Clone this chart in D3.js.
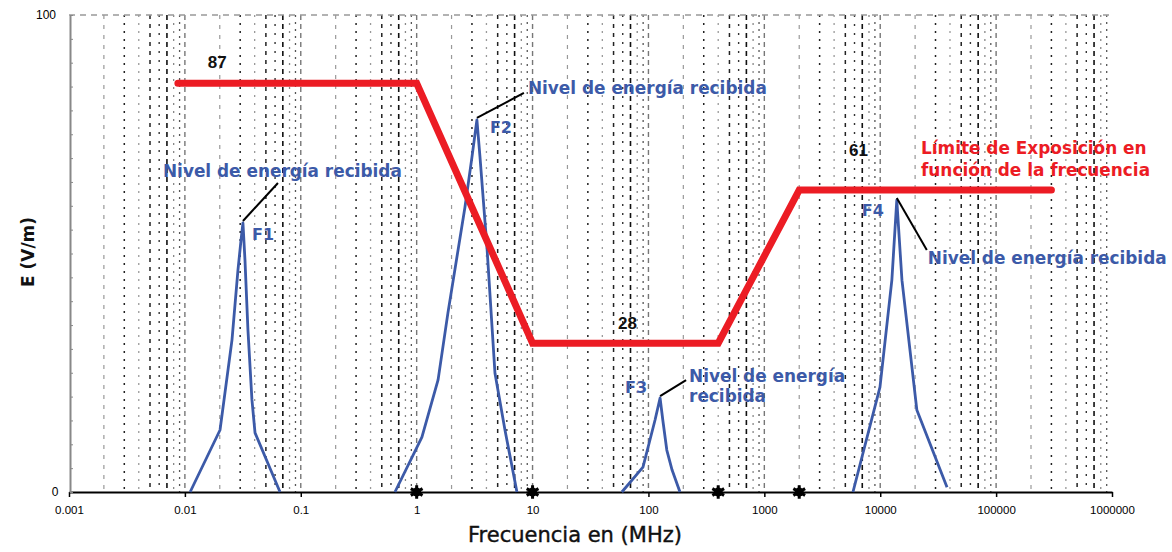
<!DOCTYPE html>
<html>
<head>
<meta charset="utf-8">
<script src="https://cdn.jsdelivr.net/npm/d3@7"></script>
<style>
  html, body { margin: 0; padding: 0; background: #fff; }
  svg { display: block; }
</style>
</head>
<body>
<svg id="chart" width="1172" height="552"></svg>
<script>
// ---------- DATA ----------
const xTickValues = [0.001, 0.01, 0.1, 1, 10, 100, 1000, 10000, 100000, 1000000];
const xTickLabels = ["0.001", "0.01", "0.1", "1", "10", "100", "1000", "10000", "100000", "1000000"];
const yTickValues = [0, 100];
const yTickLabels = ["0", "100"];

// Exposure limit (red line)
const limitFreq = [0.0087, 1, 10, 400, 2000, 300000];
const limitE    = [85.7, 85.7, 31.2, 31.2, 63.3, 63.3];
const limitLabels = ["87", "28", "61"];
const limitLabelFreq = [0.019, 66, 6500];
const limitLabelE = [90.1, 35.4, 71.7];

// Breakpoint markers on the x axis
const breakFreq = [1, 10, 400, 2000];

// Received energy peaks (blue)
const f1Freq = [0.0111, 0.0201, 0.0255, 0.0287, 0.0305, 0.0317, 0.0330, 0.0350, 0.0379, 0.0403, 0.0662];
const f1E    = [0, 13.0, 31.9, 46.5, 52.8, 56.4, 48.6, 34.0, 19.3, 12.4, 0];
const f2Freq = [0.650, 1.11, 1.53, 1.86, 2.61, 3.00, 3.31, 3.52, 4.04, 4.74, 5.78, 7.33];
const f2E    = [0, 11.5, 23.5, 37.5, 59.7, 70.2, 78.0, 70.2, 51.4, 24.9, 13.0, 0];
const f3Freq = [59.0, 89.7, 103, 114, 126, 133, 144, 160, 187];
const f3E    = [0, 5.2, 10.9, 15.1, 19.7, 15.1, 8.8, 4.6, 0];
const f4Freq = [5820, 9950, 12600, 13900, 15400, 20700, 37700];
const f4E    = [0, 22.0, 44.4, 61.2, 44.4, 17.2, 1.0];
const peakNames = ["F1", "F2", "F3", "F4"];
const calloutText = "Nivel de energía recibida";
const limitTitle = ["Límite de Exposición en", "función de la frecuencia"];
const xTitle = "Frecuencia en (MHz)";
const yTitle = "E (V/m)";

// ---------- LAYOUT ----------
const svg = d3.select("#chart");
const L = 69, R = 1112, T = 15, B = 492;
const x = d3.scaleLog().domain([0.001, 1000000]).range([L, R]);
const y = d3.scaleLinear().domain([0, 100]).range([B, T]);

const BLUE = "#3c5aa8", RED = "#ec1c24";
const FONT = "'DejaVu Sans', Verdana, sans-serif";

// ---------- GRID ----------
const gridStyles = {
  1: {c: "#777", d: "5,4", w: 1.4},
  2: {c: "#999", d: "4,6", w: 1.2},
  3: {c: "#222", d: "2,6", w: 1.5},
  4: {c: "#999", d: "2,6", w: 1.3},
  5: {c: "#222", d: "4,5", w: 1.5},
  6: {c: "#333", d: "2,7", w: 1.4},
  7: {c: "#111", d: "5,4", w: 1.6},
  8: {c: "#888", d: "2,6", w: 1.3},
  9: {c: "#555", d: "2,5", w: 1.3}
};
const gridVals = [];
for (let e = -3; e < 6; e++) {
  for (let k = 1; k <= 9; k++) {
    if (k === 1 && e === -3) continue;
    gridVals.push({v: k * Math.pow(10, e), k});
  }
}
svg.append("g").selectAll("line").data(gridVals).join("line")
  .attr("x1", d => x(d.v)).attr("x2", d => x(d.v))
  .attr("y1", T).attr("y2", B)
  .attr("stroke", d => gridStyles[d.k].c)
  .attr("stroke-width", d => gridStyles[d.k].w)
  .attr("stroke-dasharray", d => gridStyles[d.k].d);

// top dashed border
svg.append("line").attr("x1", L).attr("x2", R).attr("y1", T).attr("y2", T)
  .attr("stroke", "#999").attr("stroke-width", 1.5).attr("stroke-dasharray", "6,5");

// ---------- AXES ----------
const xAxis = d3.axisBottom(x).tickValues(xTickValues)
  .tickFormat((d, i) => xTickLabels[i]).tickSize(5).tickSizeOuter(0);
const gx = svg.append("g").attr("transform", `translate(0,${B})`).call(xAxis);
gx.select(".domain").attr("stroke", "#000").attr("stroke-width", 2);
gx.selectAll(".tick line").attr("stroke", "#000").attr("stroke-width", 1.5);
gx.selectAll(".tick text").attr("font-family", "'Liberation Sans', Arial, sans-serif")
  .attr("font-size", 11.5).attr("fill", "#000").attr("dy", "1.25em");

const yAxis = d3.axisRight(y).tickValues(d3.range(0, 101, 5)).tickSize(3).tickFormat("").tickSizeOuter(0);
const gy = svg.append("g").attr("transform", `translate(${L + 1},0)`).call(yAxis);
gy.select(".domain").attr("stroke", "#888").attr("stroke-width", 2);
gy.selectAll(".tick line").attr("stroke", "#888");

svg.append("g").selectAll("text").data(yTickValues).join("text")
  .attr("x", (d) => d === 0 ? 55 : 46).attr("y", d => y(d)).attr("dy", "0.35em")
  .attr("text-anchor", "middle")
  .attr("font-family", "'Liberation Sans', Arial, sans-serif").attr("font-size", 12)
  .text((d, i) => yTickLabels[i]);

// axis titles
svg.append("text").attr("x", 575).attr("y", 542).attr("text-anchor", "middle")
  .attr("font-family", FONT).attr("font-size", 21).attr("fill", "#111")
  .attr("stroke", "#111").attr("stroke-width", 0.4)
  .text(xTitle);
svg.append("text").attr("transform", "translate(34,252) rotate(-90)")
  .attr("text-anchor", "middle").attr("font-family", FONT).attr("font-weight", "bold")
  .attr("font-size", 17).attr("fill", "#111").text(yTitle);

// ---------- PEAKS ----------
const peaks = [
  {f: f1Freq, e: f1E}, {f: f2Freq, e: f2E}, {f: f3Freq, e: f3E}, {f: f4Freq, e: f4E}
];
const line = d3.line().x(d => x(d[0])).y(d => y(d[1]));
svg.append("g").selectAll("path").data(peaks).join("path")
  .attr("d", p => line(p.f.map((f, i) => [f, p.e[i]])))
  .attr("fill", "none").attr("stroke", BLUE).attr("stroke-width", 2.8)
  .attr("stroke-linejoin", "round");

// ---------- LIMIT LINE ----------
svg.append("path")
  .attr("d", line(limitFreq.map((f, i) => [f, limitE[i]])))
  .attr("fill", "none").attr("stroke", RED).attr("stroke-width", 7)
  .attr("stroke-linejoin", "miter").attr("stroke-linecap", "round");

// breakpoint markers
const star = d3.symbol().type(d3.symbolAsterisk).size(130);
svg.append("g").selectAll("g").data(breakFreq).join("g")
  .attr("transform", d => `translate(${x(d)},${B})`)
  .each(function () {
    const g = d3.select(this);
    g.append("path").attr("d", star()).attr("stroke", "#000").attr("stroke-width", 3);
    g.append("circle").attr("r", 4.5).attr("fill", "#000");
  });

// limit labels
svg.append("g").selectAll("text").data(limitLabels).join("text")
  .attr("x", (d, i) => x(limitLabelFreq[i])).attr("y", (d, i) => y(limitLabelE[i]))
  .attr("text-anchor", "middle").attr("dy", "0.35em")
  .attr("font-family", "'Liberation Sans', Arial, sans-serif").attr("font-weight", "bold")
  .attr("font-size", 17).attr("fill", "#111").text(d => d);

// limit title (red)
svg.append("g").selectAll("text").data(limitTitle).join("text")
  .attr("x", 921).attr("y", (d, i) => 148 + i * 22).attr("dy", "0.35em")
  .attr("font-family", FONT).attr("font-weight", "bold").attr("font-size", 16.9)
  .attr("fill", RED).text(d => d);

// ---------- CALLOUTS ----------
const callouts = [
  {p: 0, dx: 35, dy: -40, tx: -80, ty: -52, lx: 9, ly: 11, lines: [calloutText]},
  {p: 1, dx: 47, dy: -27, tx: 51, ty: -32, lx: 13, ly: 7, lines: [calloutText]},
  {p: 2, dx: 26, dy: -18, tx: 29, ty: -22, lx: -35, ly: -11, lines: ["Nivel de energía", "recibida"]},
  {p: 3, dx: 30, dy: 50, tx: 31, ty: 58, lx: -35, ly: 10, lines: [calloutText]}
];
callouts.forEach(c => {
  const pk = peaks[c.p];
  const mi = pk.e.indexOf(d3.max(pk.e));
  const px = x(pk.f[mi]), py = y(pk.e[mi]);
  svg.append("line").attr("x1", px).attr("y1", py - 2).attr("x2", px + c.dx).attr("y2", py + c.dy)
    .attr("stroke", "#000").attr("stroke-width", 2);
  c.lines.forEach((t, j) => {
    svg.append("text").attr("x", px + c.tx).attr("y", py + c.ty + j * 20).attr("dy", "0.35em")
      .attr("font-family", FONT).attr("font-weight", "bold").attr("font-size", 16.9)
      .attr("fill", BLUE).text(t);
  });
  svg.append("text").attr("x", px + c.lx).attr("y", py + c.ly).attr("dy", "0.35em")
    .attr("font-family", FONT).attr("font-weight", "bold").attr("font-size", 16)
    .attr("fill", BLUE).text(peakNames[c.p]);
});
</script>
</body>
</html>
